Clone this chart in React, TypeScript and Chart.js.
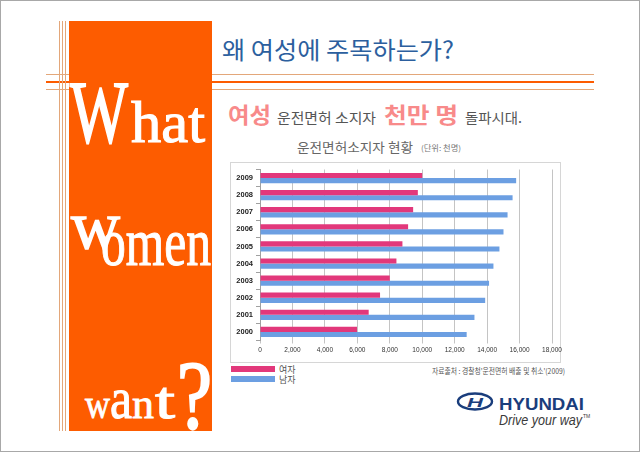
import React, { useEffect, useRef } from 'react';
import { Chart, registerables } from 'chart.js';

Chart.register(...registerables);

// ---- data ----
const years = ['2009', '2008', '2007', '2006', '2005', '2004', '2003', '2002', '2001', '2000'];
const femaleLicenses = [10000, 9730, 9440, 9130, 8780, 8410, 8000, 7400, 6700, 5980];
const maleLicenses = [15790, 15570, 15260, 15010, 14760, 14390, 14120, 13880, 13220, 12740];
const seriesNames = ['여자', '남자'];
const xMin = 0;
const xMax = 18000;
const xStep = 2000;

const PINK = '#e2387b';
const BLUE = '#6c9fe2';
const ORANGE = '#fd5c00';
const TAN = '#e3a77a';
const SANS = '"Liberation Sans", Arial, sans-serif';
const KR = '"Noto Sans CJK KR", "Noto Sans", sans-serif';
const SERIF = '"Liberation Serif", "DejaVu Serif", serif';

export default function App() {
  const ref = useRef<HTMLCanvasElement>(null);

  useEffect(() => {
    const chart = new Chart(ref.current as HTMLCanvasElement, {
      type: 'bar',
      data: {
        labels: years,
        datasets: [
          { label: seriesNames[0], data: femaleLicenses, backgroundColor: PINK, categoryPercentage: 0.6, barPercentage: 1 },
          { label: seriesNames[1], data: maleLicenses, backgroundColor: BLUE, categoryPercentage: 0.6, barPercentage: 1 },
        ],
      },
      options: {
        indexAxis: 'y',
        responsive: false,
        animation: false,
        devicePixelRatio: 1,
        layout: { padding: { left: 0, right: 18, top: 7.5, bottom: 0 } },
        plugins: { legend: { display: false }, tooltip: { enabled: false } },
        scales: {
          x: {
            min: xMin,
            max: xMax,
            ticks: {
              stepSize: xStep,
              font: { family: SANS, size: 6.5 },
              color: '#333',
              padding: 3,
              maxRotation: 0,
              callback: (v: any) => Number(v).toLocaleString('en-US'),
            },
            grid: { color: '#c4c4c4', tickLength: 3 },
            border: { display: false },
            afterFit: (s: any) => { s.height = 21.5; },
          },
          y: {
            ticks: { font: { family: SANS, size: 7.5, weight: 'bold' }, color: '#222', padding: 3 },
            grid: { drawOnChartArea: false, tickLength: 4, color: '#a0a0a0' },
            border: { display: true, color: '#a0a0a0' },
            afterFit: (s: any) => { s.width = 30; },
          },
        },
      },
    } as any);
    return () => chart.destroy();
  }, []);

  return (
    <div style={{ position: 'fixed', left: 0, top: 0, width: 640, height: 452, background: '#fff', overflow: 'hidden' }}>
      <svg width={640} height={452} style={{ position: 'absolute', left: 0, top: 0 }}>
        <rect x={0.5} y={0.5} width={639} height={451} fill="none" stroke="#a8a8a8" />
        {/* horizontal header lines */}
        <line x1={46} y1={74.5} x2={594} y2={74.5} stroke={TAN} strokeWidth={1} />
        <line x1={46} y1={82} x2={594} y2={82} stroke={ORANGE} strokeWidth={2} />
        <line x1={46} y1={89.5} x2={594} y2={89.5} stroke={TAN} strokeWidth={1} />
        {/* vertical lines */}
        <line x1={59.5} y1={21} x2={59.5} y2={431} stroke={TAN} strokeWidth={1} />
        <line x1={62.5} y1={21} x2={62.5} y2={431} stroke={TAN} strokeWidth={1} />
        <line x1={65.5} y1={21} x2={65.5} y2={431} stroke={TAN} strokeWidth={1} />
        {/* orange panel */}
        <rect x={69} y={21} width={143} height={410} fill={ORANGE} />
        <g fill="#fff" stroke="#fff" strokeWidth={1.1} fontFamily={SERIF}>
          <text x={70} y={142} fontSize={89} textLength={58} lengthAdjust="spacingAndGlyphs" strokeWidth={1.8}>W</text>
          <text x={131} y={142} fontSize={60} textLength={74} lengthAdjust="spacingAndGlyphs">hat</text>
          <text x={71} y={248} fontSize={68} textLength={49} lengthAdjust="spacingAndGlyphs" strokeWidth={1.5}>w</text>
          <text x={101} y={265} fontSize={68} textLength={110} lengthAdjust="spacingAndGlyphs">omen</text>
          <text x={85} y={418} fontSize={40} textLength={25} lengthAdjust="spacingAndGlyphs" strokeWidth={0.8}>w</text>
          <text x={110} y={418} fontSize={60} textLength={22} lengthAdjust="spacingAndGlyphs">a</text>
          <text x={132} y={418} fontSize={40} textLength={22} lengthAdjust="spacingAndGlyphs" strokeWidth={0.8}>n</text>
          <text x={155} y={418} fontSize={52} textLength={20} lengthAdjust="spacingAndGlyphs">t</text>
          <text x={177} y={428} fontSize={97} textLength={35} lengthAdjust="spacingAndGlyphs" strokeWidth={2.2}>?</text>
        </g>
        {/* title */}
        <text x={222} y={59} fontFamily={KR} fontSize={24} fill="#2c5f9e" textLength={232} lengthAdjust="spacingAndGlyphs">왜 여성에 주목하는가?</text>
        {/* subtitle */}
        <g fontFamily={KR}>
          <text x={228} y={123} fontSize={22} fontWeight="bold" fill="#f88a8a" textLength={43} lengthAdjust="spacingAndGlyphs">여성</text>
          <text x={277} y={123} fontSize={14} fill="#555" textLength={99} lengthAdjust="spacingAndGlyphs">운전면허 소지자</text>
          <text x={384} y={123} fontSize={22} fontWeight="bold" fill="#f88a8a" textLength={74} lengthAdjust="spacingAndGlyphs">천만 명</text>
          <text x={465} y={123} fontSize={14} fill="#555" textLength={57} lengthAdjust="spacingAndGlyphs">돌파시대.</text>
          <text x={297} y={152} fontSize={13} fill="#666" textLength={116} lengthAdjust="spacingAndGlyphs">운전면허소지자 현황</text>
          <text x={421} y={151} fontSize={7.5} fill="#777" textLength={40} lengthAdjust="spacingAndGlyphs">(단위: 천명)</text>
        </g>
        {/* chart box */}
        <rect x={230.5} y={162.5} width={330} height={200} fill="none" stroke="#d6d6d6" />
        {/* legend */}
        <rect x={231} y={366} width={44} height={6} fill={PINK} />
        <rect x={231} y={376} width={44} height={6} fill={BLUE} />
        <text x={279} y={372.5} fontFamily={KR} fontSize={9} fill="#555">{seriesNames[0]}</text>
        <text x={279} y={382.5} fontFamily={KR} fontSize={9} fill="#555">{seriesNames[1]}</text>
        <text x={432} y={374} fontFamily={KR} fontSize={7.5} fill="#555" textLength={133} lengthAdjust="spacingAndGlyphs">자료출처 : 경찰청'운전면허 배출 및 취소'(2009)</text>
        {/* Hyundai logo */}
        <ellipse cx={475} cy={401.5} rx={17} ry={8} fill="none" stroke="#1a3d7c" strokeWidth={2.4} />
        <text x={467} y={407} fontFamily={SANS} fontSize={13} fontStyle="italic" fontWeight="bold" fill="#1a3d7c" textLength={16} lengthAdjust="spacingAndGlyphs">H</text>
        <text x={499} y={410} fontFamily={SANS} fontSize={17} fontWeight="bold" fill="#1a3d7c" textLength={85} lengthAdjust="spacingAndGlyphs">HYUNDAI</text>
        <text x={499} y={425} fontFamily={SANS} fontSize={14} fontStyle="italic" fill="#3a3a3a" textLength={83} lengthAdjust="spacingAndGlyphs">Drive your way</text>
        <text x={583} y={418} fontFamily={SANS} fontSize={5} fill="#3a3a3a">TM</text>
      </svg>
      <canvas ref={ref} width={340} height={200} style={{ position: 'absolute', left: 230, top: 162, width: 340, height: 200 }} />
    </div>
  );
}
